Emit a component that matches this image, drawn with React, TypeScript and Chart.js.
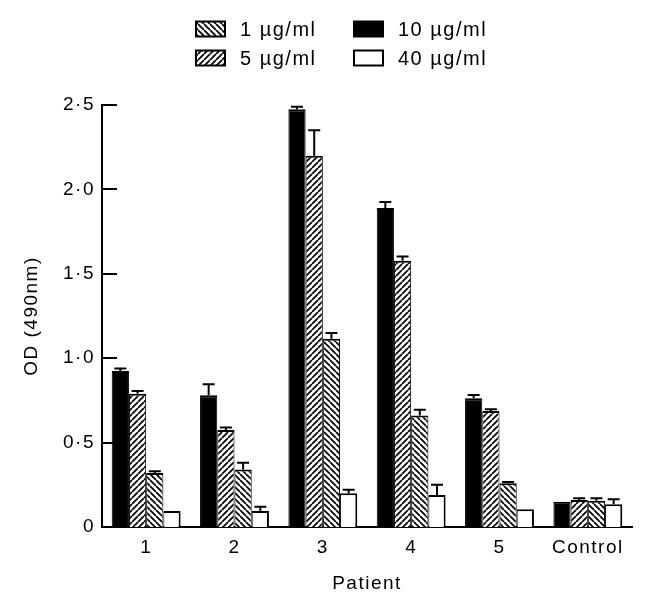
import React, { useEffect, useRef } from 'react';
import { Chart, registerables } from 'chart.js';

Chart.register(...registerables);

const categories = ['1', '2', '3', '4', '5', 'Control'];
const seriesLabels = ['10 µg/ml', '5 µg/ml', '1 µg/ml', '40 µg/ml'];
const od10 = [0.924, 0.78, 2.475, 1.89, 0.762, 0.15];
const err10 = [0.015, 0.065, 0.015, 0.035, 0.02, 0];
const od5 = [0.79, 0.575, 2.2, 1.578, 0.687, 0.16];
const err5 = [0.015, 0.015, 0.15, 0.025, 0.01, 0.01];
const od1 = [0.32, 0.34, 1.115, 0.66, 0.259, 0.155];
const err1 = [0.01, 0.04, 0.035, 0.035, 0.008, 0.015];
const od40 = [0.095, 0.095, 0.2, 0.19, 0.105, 0.135];
const err40 = [0, 0.025, 0.02, 0.06, 0, 0.03];
const yTicks = [0, 0.5, 1, 1.5, 2, 2.5];
const yTickLabels = ['0', '0·5', '1·0', '1·5', '2·0', '2·5'];
const legendOrder = ['1 µg/ml', '10 µg/ml', '5 µg/ml', '40 µg/ml'];
const xTitle = 'Patient';
const yTitle = 'OD (490nm)';

const FONT = '"Liberation Sans", Arial, Helvetica, sans-serif';
const SPACING = '1.5px';
const FS = 19;

function hatch(dir: number) {
  const s = 6;
  const c = document.createElement('canvas');
  c.width = s;
  c.height = s;
  const g = c.getContext('2d')!;
  g.fillStyle = '#fff';
  g.fillRect(0, 0, s, s);
  g.strokeStyle = '#000';
  g.lineWidth = 1.7;
  g.beginPath();
  for (const o of [-s, 0, s]) {
    if (dir > 0) {
      g.moveTo(o, s);
      g.lineTo(o + s, 0);
    } else {
      g.moveTo(o, 0);
      g.lineTo(o + s, s);
    }
  }
  g.stroke();
  return g.createPattern(c, 'repeat')!;
}

export default function App() {
  const ref = useRef<HTMLCanvasElement>(null);

  useEffect(() => {
    const canvas = ref.current!;
    const fwd = hatch(1);
    const back = hatch(-1);
    const errs = [err10, err5, err1, err40];
    const values = [od10, od5, od1, od40];
    const fills: any[] = ['#000', fwd, back, '#fff'];

    const spacingPlugin = {
      id: 'spacing',
      beforeUpdate(chart: any) { chart.ctx.letterSpacing = SPACING; },
      beforeLayout(chart: any) { chart.ctx.letterSpacing = SPACING; },
      beforeDraw(chart: any) { chart.ctx.letterSpacing = SPACING; },
    };

    const extras = {
      id: 'extras',
      afterDatasetsDraw(chart: any) {
        const ctx = chart.ctx;
        const y = chart.scales.y;
        ctx.save();
        ctx.strokeStyle = '#000';
        ctx.lineWidth = 2;
        chart.data.datasets.forEach((ds: any, i: number) => {
          const meta = chart.getDatasetMeta(i);
          meta.data.forEach((el: any, j: number) => {
            const e = errs[i][j];
            if (!e) return;
            const v = ds.data[j];
            const top = y.getPixelForValue(v);
            const hi = y.getPixelForValue(v + e);
            ctx.beginPath();
            ctx.moveTo(el.x, top);
            ctx.lineTo(el.x, hi);
            ctx.moveTo(el.x - 6, hi);
            ctx.lineTo(el.x + 6, hi);
            ctx.stroke();
          });
        });
        const left = chart.chartArea.left;
        y.ticks.forEach((t: any) => {
          if (t.value === 0) return;
          const py = Math.round(y.getPixelForValue(t.value));
          ctx.beginPath();
          ctx.moveTo(left, py);
          ctx.lineTo(left + 15, py);
          ctx.stroke();
        });
        ctx.restore();
      },
      afterDraw(chart: any) {
        const ctx = chart.ctx;
        ctx.save();
        ctx.letterSpacing = SPACING;
        ctx.font = '20px ' + FONT;
        ctx.textBaseline = 'middle';
        ctx.textAlign = 'left';
        const cols = [196, 354];
        const rows = [29, 58];
        legendOrder.forEach((lab, k) => {
          const idx = seriesLabels.indexOf(lab);
          const ds = chart.data.datasets[idx];
          const bx = cols[k % 2];
          const cy = rows[Math.floor(k / 2)];
          const w = 29, h = 15;
          ctx.fillStyle = ds.backgroundColor;
          ctx.fillRect(bx, cy - h / 2, w, h);
          ctx.strokeStyle = '#000';
          ctx.lineWidth = 2;
          ctx.strokeRect(bx, cy - h / 2, w, h);
          ctx.fillStyle = '#000';
          ctx.fillText(lab, bx + 44, cy + 1);
        });
        ctx.restore();
      },
    };

    const chart = new Chart(canvas, {
      type: 'bar',
      data: {
        labels: categories,
        datasets: seriesLabels.map((lab, i) => ({
          label: lab,
          data: values[i],
          backgroundColor: fills[i],
          borderColor: '#000',
          borderWidth: { top: 2, left: 1, right: i === 3 ? 2 : 1, bottom: 0 },
          borderSkipped: 'start',
          categoryPercentage: 0.78,
          barPercentage: 1,
        })),
      },
      options: {
        animation: false,
        responsive: false,
        events: [],
        layout: { padding: { top: 105, right: 17, left: 0, bottom: 0 } },
        plugins: {
          legend: { display: false },
          tooltip: { enabled: false },
        },
        scales: {
          x: {
            grid: { display: false, drawTicks: false },
            border: { display: true, color: '#000', width: 2 },
            ticks: { color: '#000', font: { family: FONT, size: FS }, padding: 9, maxRotation: 0 },
            title: { display: true, text: xTitle, color: '#000', font: { family: FONT, size: FS }, padding: { top: 0, bottom: 14 } },
            afterFit(s: any) { s.height = 82; },
          },
          y: {
            min: 0,
            max: 2.5,
            grid: { display: false, drawTicks: false },
            border: { display: true, color: '#000', width: 2 },
            ticks: {
              color: '#000',
              font: { family: FONT, size: FS },
              padding: 7,
              callback: (v: any) => yTickLabels[yTicks.indexOf(Number(v))] ?? '',
            },
            afterBuildTicks(s: any) { s.ticks = yTicks.map((v) => ({ value: v })); },
            title: { display: true, text: yTitle, color: '#000', font: { family: FONT, size: FS }, padding: { top: 20, bottom: 0 } },
            afterFit(s: any) { s.width = 102; },
          },
        },
      },
      plugins: [spacingPlugin, extras],
    });
    return () => chart.destroy();
  }, []);

  return (
    <div style={{ position: 'fixed', left: 0, top: 0, width: 649, height: 609, background: '#fff' }}>
      <canvas ref={ref} width={649} height={609} style={{ display: 'block' }} />
    </div>
  );
}
